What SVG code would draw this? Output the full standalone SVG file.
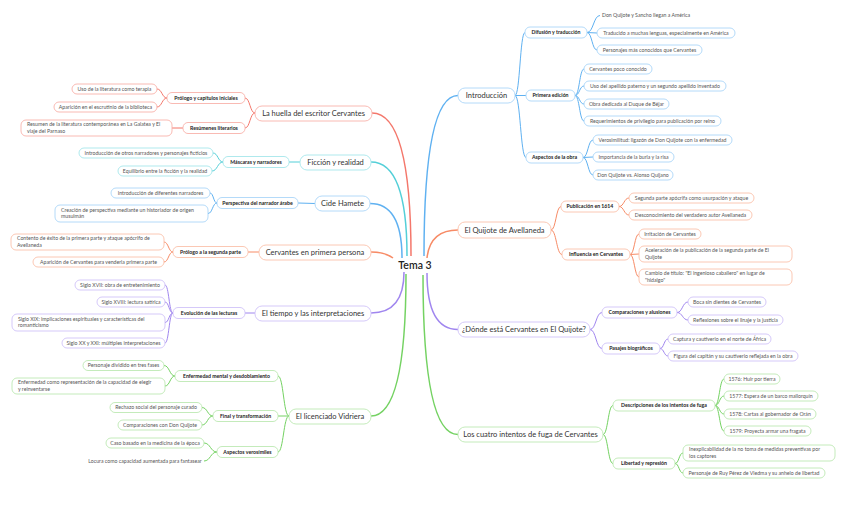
<svg xmlns="http://www.w3.org/2000/svg" width="848" height="509" viewBox="0 0 848 509">
<style>
text{font-family:Lato,"Open Sans","Noto Sans",sans-serif}
.tm{font-size:7.5px;fill:#333;text-anchor:middle}
.ts{font-size:5.2px;font-weight:bold;fill:#222;text-anchor:middle}
.tl{font-size:5.2px;fill:#555;text-anchor:middle}
.tl2{font-size:5.2px;fill:#555}
rect{fill:#fff;stroke-width:0.9}
.mn{rx:7;ry:7}
.sb{rx:5;ry:5}
.lf{rx:5;ry:5}
.cr rect{stroke:#f8b2aa}.cc rect{stroke:#a6e7eb}.cb rect{stroke:#abd6f8}.co rect{stroke:#fbc2ac}.cp rect{stroke:#d0c3f8}.cg rect{stroke:#bde9b3}
#connectors path{fill:none;stroke-width:1}
#connectors .main{stroke-width:1.5}
.r{stroke:#f4776b}.c{stroke:#53cfd8}.b{stroke:#5fb1f1}.o{stroke:#f78b66}.p{stroke:#a086ef}.g{stroke:#74d262}
</style>
<rect x="0" y="0" width="848" height="509" style="fill:#fff;stroke:none"/>
<g id="connectors">
<path class="main r" d="M411 256 Q411 113 372 113"/>
<path class="main c" d="M407 256 Q407 162 371 162"/>
<path class="main b" d="M402 258 Q402 203.5 370 203.5"/>
<path class="main o" d="M393 258 Q385 252 371 252"/>
<path class="main p" d="M404 272 Q404 313 371 313"/>
<path class="main g" d="M406 274 Q406 416 371 416"/>
<path class="main b" d="M424 256 Q424 95.5 458 95.5"/>
<path class="main o" d="M427 258 Q430 230 458 230"/>
<path class="main p" d="M427 273 Q427 329.5 458 329.5"/>
<path class="main g" d="M423 275 Q423 434.5 458 434.5"/>
<path class="r" d="M255 113 C250 113 250 98 245 98"/>
<path class="r" d="M255 113 C250 113 250 128 245 128"/>
<path class="c" d="M300 162 L289 162"/>
<path class="b" d="M315 203.5 L298 203"/>
<path class="o" d="M259 252 L248 252"/>
<path class="p" d="M255 313 L245 313"/>
<path class="g" d="M289 416 C283.5 416 283.5 376 278 376"/>
<path class="g" d="M289 416 L278 416"/>
<path class="g" d="M289 416 C283.5 416 283.5 452 278 452"/>
<path class="r" d="M167 98 C162 98 162 89 157 89"/>
<path class="r" d="M167 98 C162 98 162 107 157 107"/>
<path class="r" d="M183 128 L172 128"/>
<path class="c" d="M223 162 C218 162 218 153 213 153"/>
<path class="c" d="M223 162 C217.5 162 217.5 171 212 171"/>
<path class="b" d="M217 203 C213.5 203 213.5 193 210 193"/>
<path class="b" d="M217 203 C212.5 203 212.5 213.5 208 213.5"/>
<path class="o" d="M173 252 C168.5 252 168.5 242 164 242"/>
<path class="o" d="M173 252 C168.5 252 168.5 262 164 262"/>
<path class="p" d="M173 313 C169 313 169 285 165 285"/>
<path class="p" d="M173 313 C169 313 169 302 165 302"/>
<path class="p" d="M173 313 C169 313 169 322.5 165 322.5"/>
<path class="p" d="M173 313 C169 313 169 343 165 343"/>
<path class="g" d="M175 376 C169.5 376 169.5 365.5 164 365.5"/>
<path class="g" d="M175 376 C170 376 170 386 165 386"/>
<path class="g" d="M213 416 C207.5 416 207.5 407.5 202 407.5"/>
<path class="g" d="M213 416 C207.5 416 207.5 425 202 425"/>
<path class="g" d="M217 452 C210.5 452 210.5 443 204 443"/>
<path class="g" d="M217 452 C210.5 452 210.5 461 204 461"/>
<path class="b" d="M515 95.5 C520 95.5 520 32.5 525 32.5"/>
<path class="b" d="M515 95.5 L526 95.5"/>
<path class="b" d="M515 95.5 C520.5 95.5 520.5 157.5 526 157.5"/>
<path class="o" d="M551 230 C556 230 556 206.5 561 206.5"/>
<path class="o" d="M551 230 C556.5 230 556.5 254.5 562 254.5"/>
<path class="p" d="M590 329.5 C596 329.5 596 312.5 602 312.5"/>
<path class="p" d="M590 329.5 C596 329.5 596 348.5 602 348.5"/>
<path class="g" d="M603 434.5 C608 434.5 608 405.5 613 405.5"/>
<path class="g" d="M603 434.5 C608 434.5 608 463.5 613 463.5"/>
<path class="b" d="M587 32.5 C593.5 32.5 593.5 15.5 600 15.5"/>
<path class="b" d="M587 32.5 L597 33"/>
<path class="b" d="M587 32.5 C592 32.5 592 50 597 50"/>
<path class="b" d="M575 95.5 C579.5 95.5 579.5 69 584 69"/>
<path class="b" d="M575 95.5 C579.5 95.5 579.5 86 584 86"/>
<path class="b" d="M575 95.5 C579.5 95.5 579.5 104 584 104"/>
<path class="b" d="M575 95.5 C579.5 95.5 579.5 121 584 121"/>
<path class="b" d="M583 157.5 C588 157.5 588 140 593 140"/>
<path class="b" d="M583 157.5 L593 157"/>
<path class="b" d="M583 157.5 C588 157.5 588 175 593 175"/>
<path class="o" d="M619 206.5 C624 206.5 624 198 629 198"/>
<path class="o" d="M619 206.5 C624 206.5 624 215 629 215"/>
<path class="o" d="M630 254.5 C634.5 254.5 634.5 234 639 234"/>
<path class="o" d="M630 254.5 L639 254"/>
<path class="o" d="M630 254.5 C634.5 254.5 634.5 277 639 277"/>
<path class="p" d="M677 312.5 C682.5 312.5 682.5 302 688 302"/>
<path class="p" d="M677 312.5 C682.5 312.5 682.5 320 688 320"/>
<path class="p" d="M660 348.5 C664 348.5 664 339 668 339"/>
<path class="p" d="M660 348.5 C664 348.5 664 356 668 356"/>
<path class="g" d="M715 405.5 C719.5 405.5 719.5 379 724 379"/>
<path class="g" d="M715 405.5 C719.5 405.5 719.5 396 724 396"/>
<path class="g" d="M715 405.5 C719.5 405.5 719.5 414 724 414"/>
<path class="g" d="M715 405.5 C719.5 405.5 719.5 431 724 431"/>
<path class="g" d="M675 463.5 C679 463.5 679 453 683 453"/>
<path class="g" d="M675 463.5 C679 463.5 679 473 683 473"/>
</g>
<g id="center"><text x="415" y="269" style="font-size:10.5px;fill:#222;text-anchor:middle;font-weight:600">Tema 3</text></g>

<g id="n-huella" class="cr">
<rect class="mn" x="255" y="106" width="117" height="15"/><text class="tm" x="313.5" y="116.1">La huella del escritor Cervantes</text>
<rect class="sb" x="167" y="92.5" width="78" height="11"/><text class="ts" x="206" y="99.9">Prólogo y capítulos iniciales</text>
<rect class="sb" x="183" y="122.5" width="62" height="11"/><text class="ts" x="214" y="129.9">Resúmenes literarios</text>
<rect class="lf" x="72" y="84" width="85" height="10"/><text class="tl" x="114.5" y="90.8">Uso de la literatura como terapia</text>
<rect class="lf" x="54" y="102" width="103" height="10"/><text class="tl" x="105.5" y="108.8">Aparición en el escrutinio de la biblioteca</text>
<rect class="lf" x="21" y="120" width="151" height="16"/><text class="tl2" x="27" y="126.4">Resumen de la literatura contemporánea en La Galatea y El</text><text class="tl2" x="27" y="132.8">viaje del Parnaso</text>
</g>
<g id="n-ficcion" class="cc">
<rect class="mn" x="300" y="155" width="71" height="15"/><text class="tm" x="335.5" y="165.1">Ficción y realidad</text>
<rect class="sb" x="223" y="156.5" width="66" height="11"/><text class="ts" x="256" y="163.9">Máscaras y narradores</text>
<rect class="lf" x="79" y="148" width="134" height="10"/><text class="tl" x="146" y="154.8">Introducción de otros narradores y personajes ficticios</text>
<rect class="lf" x="118" y="166" width="94" height="10"/><text class="tl" x="165" y="172.8">Equilibrio entre la ficción y la realidad</text>
</g>
<g id="n-cide" class="cb">
<rect class="mn" x="315" y="196" width="55" height="15"/><text class="tm" x="342.5" y="206.1">Cide Hamete</text>
<rect class="sb" x="217" y="197.5" width="81" height="11"/><text class="ts" x="257.5" y="204.9">Perspectiva del narrador árabe</text>
<rect class="lf" x="111" y="188" width="99" height="10"/><text class="tl" x="160.5" y="194.8">Introducción de diferentes narradores</text>
<rect class="lf" x="55" y="205" width="153" height="17"/><text class="tl2" x="61" y="211.6">Creación de perspectiva mediante un historiador de origen</text><text class="tl2" x="61" y="218.2">musulmán</text>
</g>
<g id="n-primera" class="co">
<rect class="mn" x="259" y="245" width="112" height="15"/><text class="tm" x="315" y="255.1">Cervantes en primera persona</text>
<rect class="sb" x="173" y="246.5" width="75" height="11"/><text class="ts" x="210.5" y="253.9">Prólogo a la segunda parte</text>
<rect class="lf" x="11" y="234" width="153" height="16"/><text class="tl2" x="17" y="240.4">Contento de éxito de la primera parte y ataque apócrifo de</text><text class="tl2" x="17" y="246.8">Avellaneda</text>
<rect class="lf" x="33" y="257" width="131" height="10"/><text class="tl" x="98.5" y="263.8">Aparición de Cervantes para venderla primera parte</text>
</g>
<g id="n-tiempo" class="cp">
<rect class="mn" x="255" y="306" width="116" height="15"/><text class="tm" x="313" y="316.1">El tiempo y las interpretaciones</text>
<rect class="sb" x="173" y="307.5" width="72" height="11"/><text class="ts" x="209" y="314.9">Evolución de las lecturas</text>
<rect class="lf" x="75" y="280" width="90" height="10"/><text class="tl" x="120" y="286.8">Siglo XVII: obra de entretenimiento</text>
<rect class="lf" x="97" y="297" width="68" height="10"/><text class="tl" x="131" y="303.8">Siglo XVIII: lectura satírica</text>
<rect class="lf" x="12" y="314" width="153" height="17"/><text class="tl2" x="18" y="320.6">Siglo XIX: implicaciones espirituales y características del</text><text class="tl2" x="18" y="327.2">romanticismo</text>
<rect class="lf" x="62" y="338" width="103" height="10"/><text class="tl" x="113.5" y="344.8">Siglo XX y XXI: múltiples interpretaciones</text>
</g>
<g id="n-vidriera" class="cg">
<rect class="mn" x="289" y="409" width="82" height="15"/><text class="tm" x="330" y="419.1">El licenciado Vidriera</text>
<rect class="sb" x="175" y="370.5" width="103" height="11"/><text class="ts" x="226.5" y="377.9">Enfermedad mental y desdoblamiento</text>
<rect class="sb" x="213" y="410.5" width="65" height="11"/><text class="ts" x="245.5" y="417.9">Final y transformación</text>
<rect class="sb" x="217" y="446.5" width="61" height="11"/><text class="ts" x="247.5" y="453.9">Aspectos verosímiles</text>
<rect class="lf" x="83" y="360.5" width="81" height="10"/><text class="tl" x="123.5" y="367.3">Personaje dividido en tres fases</text>
<rect class="lf" x="12" y="378" width="153" height="16"/><text class="tl2" x="18" y="384.4">Enfermedad como representación de la capacidad de elegir</text><text class="tl2" x="18" y="390.8">y reinventarse</text>
<rect class="lf" x="110" y="402.5" width="92" height="10"/><text class="tl" x="156" y="409.3">Rechazo social del personaje curado</text>
<rect class="lf" x="118" y="420" width="84" height="10"/><text class="tl" x="160" y="426.8">Comparaciones con Don Quijote</text>
<rect class="lf" x="106" y="438" width="98" height="10"/><text class="tl" x="155" y="444.8">Caso basado en la medicina de la época</text>
<text class="tl" x="145" y="462.8">Locura como capacidad aumentada para fantasear</text>
</g>

<g id="n-intro" class="cb">
<rect class="mn" x="458" y="88" width="57" height="15"/><text class="tm" x="486.5" y="98.1">Introducción</text>
<rect class="sb" x="525" y="27" width="62" height="11"/><text class="ts" x="556" y="34.4">Difusión y traducción</text>
<rect class="sb" x="526" y="90" width="49" height="11"/><text class="ts" x="550.5" y="97.4">Primera edición</text>
<rect class="sb" x="526" y="152" width="57" height="11"/><text class="ts" x="554.5" y="159.4">Aspectos de la obra</text>
<text class="tl2" x="602" y="17.3">Don Quijote y Sancho llegan a América</text>
<rect class="lf" x="597" y="28" width="138" height="10"/><text class="tl" x="666" y="34.8">Traducido a muchas lenguas, especialmente en América</text>
<rect class="lf" x="597" y="45" width="105" height="10"/><text class="tl" x="649.5" y="51.8">Personajes más conocidos que Cervantes</text>
<rect class="lf" x="584" y="64" width="68" height="10"/><text class="tl" x="618" y="70.8">Cervantes poco conocido</text>
<rect class="lf" x="584" y="81" width="142" height="10"/><text class="tl" x="655" y="87.8">Uso del apellido paterno y un segundo apellido inventado</text>
<rect class="lf" x="584" y="99" width="85" height="10"/><text class="tl" x="626.5" y="105.8">Obra dedicada al Duque de Béjar</text>
<rect class="lf" x="584" y="116" width="137" height="10"/><text class="tl" x="652.5" y="122.8">Requerimientos de privilegio para publicación por reino</text>
<rect class="lf" x="593" y="135" width="139" height="10"/><text class="tl" x="662.5" y="141.8">Verosimilitud: ligazón de Don Quijote con la enfermedad</text>
<rect class="lf" x="593" y="152" width="81" height="10"/><text class="tl" x="633.5" y="158.8">Importancia de la burla y la risa</text>
<rect class="lf" x="593" y="170" width="80" height="10"/><text class="tl" x="633" y="176.8">Don Quijote vs. Alonso Quijano</text>
</g>
<g id="n-avellaneda" class="co">
<rect class="mn" x="458" y="222" width="93" height="16"/><text class="tm" x="504.5" y="232.6">El Quijote de Avellaneda</text>
<rect class="sb" x="561" y="201" width="58" height="11"/><text class="ts" x="590" y="208.4">Publicación en 1614</text>
<rect class="sb" x="562" y="249" width="68" height="11"/><text class="ts" x="596" y="256.4">Influencia en Cervantes</text>
<rect class="lf" x="629" y="193" width="125" height="10"/><text class="tl" x="691.5" y="199.8">Segunda parte apócrifa como usurpación y ataque</text>
<rect class="lf" x="629" y="210" width="123" height="10"/><text class="tl" x="690.5" y="216.8">Desconocimiento del verdadero autor Avellaneda</text>
<rect class="lf" x="639" y="229" width="62" height="10"/><text class="tl" x="670" y="235.8">Irritación de Cervantes</text>
<rect class="lf" x="639" y="246" width="153" height="16"/><text class="tl2" x="645" y="252.4">Aceleración de la publicación de la segunda parte de El</text><text class="tl2" x="645" y="258.8">Quijote</text>
<rect class="lf" x="639" y="269" width="153" height="16"/><text class="tl2" x="645" y="275.4">Cambio de título: "El ingenioso caballero" en lugar de</text><text class="tl2" x="645" y="281.8">"hidalgo"</text>
</g>
<g id="n-donde" class="cp">
<rect class="mn" x="458" y="322" width="132" height="15"/><text class="tm" x="524" y="332.1">¿Dónde está Cervantes en El Quijote?</text>
<rect class="sb" x="602" y="307" width="75" height="11"/><text class="ts" x="639.5" y="314.4">Comparaciones y alusiones</text>
<rect class="sb" x="602" y="343" width="58" height="11"/><text class="ts" x="631" y="350.4">Pasajes biográficos</text>
<rect class="lf" x="688" y="297" width="78" height="10"/><text class="tl" x="727" y="303.8">Boca sin dientes de Cervantes</text>
<rect class="lf" x="688" y="315" width="95" height="10"/><text class="tl" x="735.5" y="321.8">Reflexiones sobre el linaje y la justicia</text>
<rect class="lf" x="668" y="334" width="103" height="10"/><text class="tl" x="719.5" y="340.8">Captura y cautiverio en el norte de África</text>
<rect class="lf" x="668" y="351" width="130" height="10"/><text class="tl" x="733" y="357.8">Figura del capitán y su cautiverio reflejada en la obra</text>
</g>
<g id="n-fuga" class="cg">
<rect class="mn" x="458" y="427" width="145" height="15"/><text class="tm" x="530.5" y="437.1">Los cuatro intentos de fuga de Cervantes</text>
<rect class="sb" x="613" y="400" width="102" height="11"/><text class="ts" x="664" y="407.4">Descripciones de los intentos de fuga</text>
<rect class="sb" x="613" y="458" width="62" height="11"/><text class="ts" x="644" y="465.4">Libertad y represión</text>
<rect class="lf" x="724" y="374" width="56" height="10"/><text class="tl" x="752" y="380.8">1576: Huir por tierra</text>
<rect class="lf" x="724" y="391" width="94" height="10"/><text class="tl" x="771" y="397.8">1577: Espera de un barco mallorquín</text>
<rect class="lf" x="724" y="409" width="92" height="10"/><text class="tl" x="770" y="415.8">1578: Cartas al gobernador de Orán</text>
<rect class="lf" x="724" y="426" width="87" height="10"/><text class="tl" x="767.5" y="432.8">1579: Proyecta armar una fragata</text>
<rect class="lf" x="683" y="445" width="152" height="16"/><text class="tl2" x="689" y="451.4">Inexplicabilidad de la no toma de medidas preventivas por</text><text class="tl2" x="689" y="457.8">los captores</text>
<rect class="lf" x="683" y="468" width="142" height="10"/><text class="tl" x="754" y="474.8">Personaje de Ruy Pérez de Viedma y su anhelo de libertad</text>
</g>
</svg>
